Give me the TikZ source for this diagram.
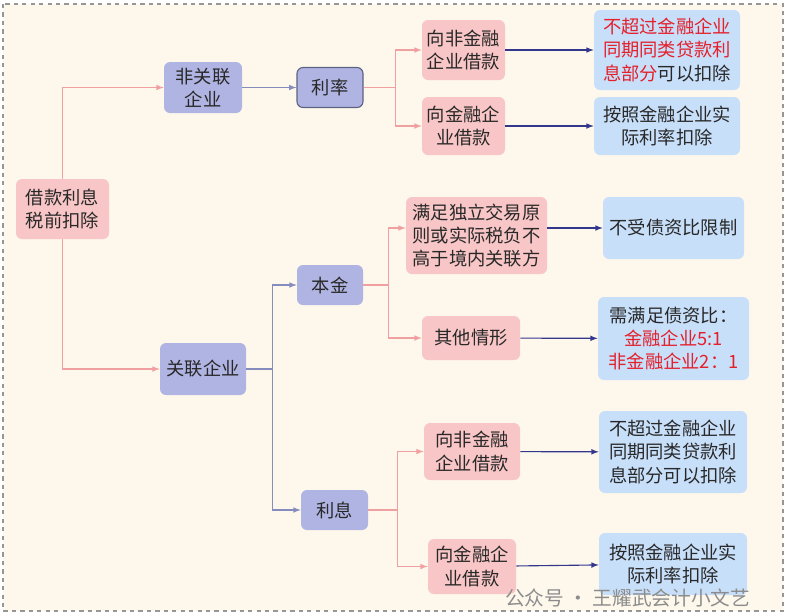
\documentclass[tikz,border=0pt]{standalone}
\usepackage{fontspec}
\setmainfont{Noto Sans CJK SC}
\usetikzlibrary{arrows,shapes,positioning,calc}
\definecolor{bgcream}{RGB}{254,248,236}
\definecolor{framegrey}{RGB}{150,150,150}
\definecolor{boxpink}{RGB}{248,198,198}
\definecolor{boxlav}{RGB}{176,180,226}
\definecolor{boxblue}{RGB}{200,223,250}
\definecolor{linepink}{RGB}{240,160,160}
\definecolor{linelav}{RGB}{135,140,190}
\definecolor{linenavy}{RGB}{50,55,140}
\definecolor{textred}{RGB}{228,32,42}
\definecolor{textdark}{RGB}{40,40,40}
\newcommand{\hl}[1]{\textcolor{textred}{#1}}

\begin{document}
\begin{tikzpicture}[x=0.025cm, y=-0.025cm, >=latex,
                    every node/.style = {
                      font=\fontsize{13}{16.5}\selectfont,
                      text=textdark, align=center, inner sep=0pt
                    },
                    boxsize/.style 2 args = {
                      minimum width=#1*0.025cm, minimum height=#2*0.025cm
                    },
                    pinkbox/.style = {
                      rectangle, rounded corners=1.5mm, fill=boxpink
                    },
                    lavbox/.style = {
                      rectangle, rounded corners=1.5mm, fill=boxlav
                    },
                    bluebox/.style = {
                      rectangle, rounded corners=1.5mm, fill=boxblue
                    },
                    pinkln/.style = {draw=linepink, thick, ->},
                    lavln/.style = {draw=linelav, thick, ->},
                    navyln/.style = {draw=linenavy, thick, ->}]
    \useasboundingbox (0,0) rectangle (786,614);
    \draw[draw=framegrey, fill=bgcream, dashed, thick] (3,4) rectangle (783,611);

    % left part
    \node (root) [pinkbox, boxsize={93}{60}] at (62.5,209) {借款利息\\税前扣除};
    \node (nonrel) [lavbox, boxsize={78}{51}] at (203,87.5) {非关联\\企业};
    \node (rel) [lavbox, boxsize={86}{52}] at (203,369) {关联企业};

    % non related
    \node (rate) [lavbox, draw=linelav!70!black, thick, boxsize={66}{40}] at (330,87.5) {利率};
    \node (nfloan) [pinkbox, boxsize={83}{60}] at (463.5,50) {向非金融\\企业借款};
    \node (floan) [pinkbox, boxsize={83}{58}] at (463.5,126) {向金融企\\业借款};
    \node (nflimit) [bluebox, boxsize={146}{80}] at (667,50)
          {\hl{不超过金融企业}\\\hl{同期同类贷款利}\\\hl{息部分}可以扣除};
    \node (flimit) [bluebox, boxsize={146}{58}] at (667,126) {按照金融企业实\\际利率扣除};

    % related
    \node (principal) [lavbox, boxsize={66}{40}] at (330,285) {本金};
    \node (interest) [lavbox, boxsize={67}{40}] at (334.5,510) {利息};
    \node (arm) [pinkbox, boxsize={141}{77}] at (476.5,235.5)
          {满足独立交易原\\则或实际税负不\\高于境内关联方};
    \node (armres) [bluebox, boxsize={141}{62}] at (673.5,228) {不受债资比限制};
    \node (other) [pinkbox, boxsize={98}{44}] at (471,338) {其他情形};
    \node (otherres) [bluebox, boxsize={151}{83}] at (673.5,338.5)
          {需满足债资比：\\\hl{金融企业5:1}\\\hl{非金融企业2：1}};
    \node (nfloanb) [pinkbox, boxsize={96}{57}] at (472,451.5) {向非金融\\企业借款};
    \node (floanb) [pinkbox, boxsize={88}{55}] at (472,566.5) {向金融企\\业借款};
    \node (nflimitb) [bluebox, boxsize={148}{82}] at (673,452)
          {不超过金融企业\\同期同类贷款利\\息部分可以扣除};
    \node (flimitb) [bluebox, boxsize={148}{62}] at (673,564) {按照金融企业实\\际利率扣除};

    % forks
    \coordinate (f1) at ($(rate.east)+(32,0)$);
    \coordinate (f2) at ($(rel.east)+(26,0)$);
    \coordinate (f3) at ($(principal.east)+(25,0)$);
    \coordinate (f4) at ($(interest.east)+(29,0)$);

    \path[pinkln] (root.north) |- (nonrel.west);
    \path[pinkln] (root.south) |- (rel.west);
    \path[lavln] (nonrel) -- (rate);
    \draw[draw=linepink, thick] (rate.east) -- (f1);
    \path[pinkln] (f1) |- (nfloan.west);
    \path[pinkln] (f1) |- (floan.west);
    \path[navyln] (nfloan) -- (nflimit);
    \path[navyln] (floan) -- (flimit);

    \draw[draw=linelav, thick] (rel.east) -- (f2);
    \path[lavln] (f2) |- (principal.west);
    \path[lavln] (f2) |- (interest.west);
    \draw[draw=linepink, thick] (principal.east) -- (f3);
    \path[pinkln] (f3) |- (arm.west |- armres.west);
    \path[pinkln] (f3) |- (other.west);
    \path[navyln] (arm.east |- armres.west) -- (armres.west);
    \path[navyln] (other) -- (otherres);
    \draw[draw=linepink, thick] (interest.east) -- (f4);
    \path[pinkln] (f4) |- (nfloanb.west);
    \path[pinkln] (f4) |- (floanb.west);
    \path[navyln] (nfloanb) -- (nflimitb);
    \path[navyln] (floanb) -- (flimitb);

    \node (mark) [text=black!45, font=\fontsize{14}{17}\selectfont, anchor=west] at (505,598) {公众号 · 王耀武会计小文艺};
\end{tikzpicture}
\end{document}
